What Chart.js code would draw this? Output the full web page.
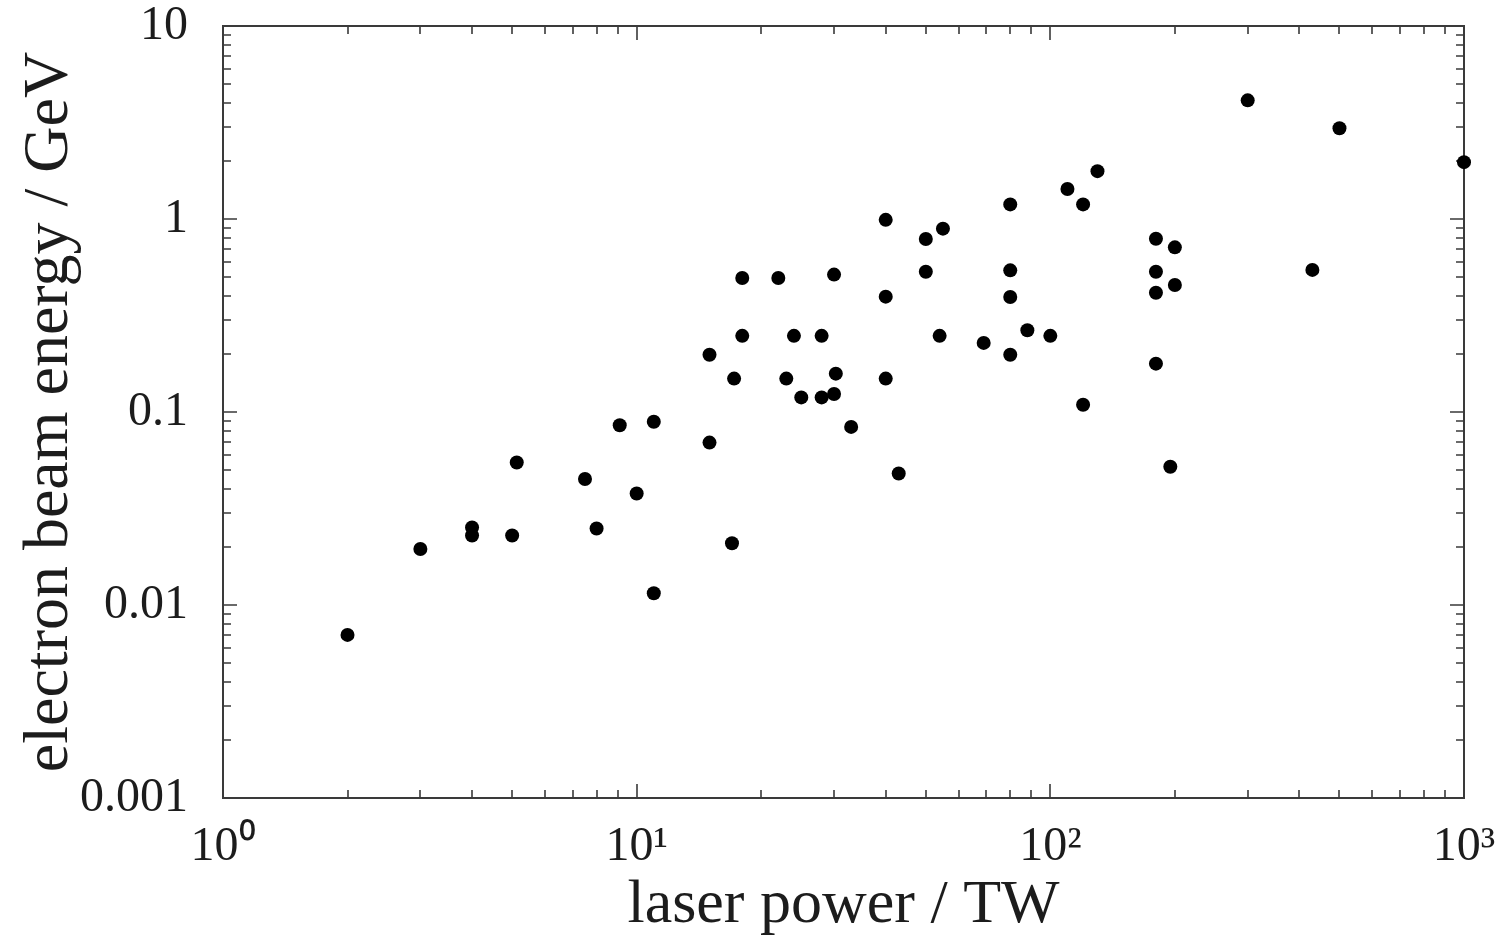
<!DOCTYPE html>
<html>
<head>
<meta charset="utf-8">
<script src="https://cdn.jsdelivr.net/npm/chart.js@4"></script>
<style>
  html, body { margin: 0; padding: 0; background: #fff; }
  #wrap { width: 1511px; height: 943px; }
</style>
</head>
<body>
<div id="wrap"><canvas id="beamChart"></canvas></div>
<script>
// laser power (TW) and electron beam energy (GeV)
const powerTW = [
  2, 3, 4, 4, 5, 5.13, 7.5, 8, 9.1, 10,
  11, 11, 15, 15, 17.2, 17, 18, 18, 22, 23,
  24, 25, 28, 28, 30, 30.3, 30, 33, 40, 40,
  40, 43, 50, 50, 55, 54, 69, 80, 80, 80,
  80, 88, 100, 110, 120, 120, 130, 180, 180, 180,
  180, 200, 200, 195, 300, 430, 500, 1000
];
const energyGeV = [
  0.007, 0.0195, 0.0252, 0.0229, 0.0229, 0.0547, 0.045, 0.0249, 0.0854, 0.0378,
  0.089, 0.0115, 0.0694, 0.198, 0.149, 0.0209, 0.495, 0.248, 0.495, 0.149,
  0.248, 0.119, 0.248, 0.119, 0.515, 0.158, 0.124, 0.0837, 0.99, 0.396,
  0.149, 0.048, 0.788, 0.533, 0.891, 0.248, 0.228, 1.19, 0.542, 0.394,
  0.198, 0.265, 0.248, 1.43, 1.19, 0.109, 1.77, 0.79, 0.533, 0.415,
  0.178, 0.713, 0.455, 0.052, 4.12, 0.545, 2.95, 1.97
];

const xTickValues = [1, 10, 100, 1000];
const xTickLabels = ['10\u2070', '10\u00b9', '10\u00b2', '10\u00b3'];
const yTickValues = [0.001, 0.01, 0.1, 1, 10];
const yTickLabels = ['0.001', '0.01', '0.1', '1', '10'];

const serif = "'Liberation Serif', 'Times New Roman', serif";
const axisColor = '#3a3a3a';
const textColor = '#1c1c1c';

// box + inward major/minor ticks on all four sides
const frameTicks = {
  id: 'frameTicks',
  beforeDatasetsDraw(chart) {
    const { ctx, chartArea: a, scales: { x, y } } = chart;
    ctx.save();
    ctx.strokeStyle = axisColor;

    function decadeTicks(min, max) {
      const out = [];
      for (let d = min; d <= max * 1.0001; d *= 10) {
        out.push({ v: d, major: true });
        for (let k = 2; k <= 9; k++) {
          if (k * d < max * 0.9999) out.push({ v: k * d, major: false });
        }
      }
      return out;
    }

    ctx.lineWidth = 1.6;
    ctx.beginPath();
    decadeTicks(x.min, x.max).forEach(t => {
      const px = Math.round(x.getPixelForValue(t.v));
      const len = t.major ? 14 : 8;
      ctx.moveTo(px, a.bottom); ctx.lineTo(px, a.bottom - len);
      ctx.moveTo(px, a.top); ctx.lineTo(px, a.top + len);
    });
    decadeTicks(y.min, y.max).forEach(t => {
      const py = Math.round(y.getPixelForValue(t.v));
      const len = t.major ? 14 : 8;
      ctx.moveTo(a.left, py); ctx.lineTo(a.left + len, py);
      ctx.moveTo(a.right, py); ctx.lineTo(a.right - len, py);
    });
    ctx.stroke();

    ctx.lineWidth = 2;
    ctx.strokeRect(a.left, a.top, a.right - a.left, a.bottom - a.top);
    ctx.restore();
  }
};

function initChart() {
  const ctx = document.getElementById('beamChart').getContext('2d');
  new Chart(ctx, {
    type: 'scatter',
    data: {
      datasets: [{
        data: powerTW.map((p, i) => ({ x: p, y: energyGeV[i] })),
        backgroundColor: '#000',
        borderColor: '#000',
        borderWidth: 0,
        pointRadius: 7,
        pointHoverRadius: 7,
        clip: false
      }]
    },
    options: {
      responsive: true,
      maintainAspectRatio: false,
      animation: false,
      layout: { padding: { top: 26, right: 47, left: 0, bottom: 0 } },
      plugins: { legend: { display: false }, tooltip: { enabled: false } },
      scales: {
        x: {
          type: 'logarithmic',
          min: 1,
          max: 1000,
          afterBuildTicks: s => { s.ticks = xTickValues.map(v => ({ value: v })); },
          afterFit: s => { s.height = 145; s.paddingLeft = 0; s.paddingRight = 0; },
          grid: { display: false, drawTicks: false },
          border: { display: false },
          ticks: {
            autoSkip: false,
            maxRotation: 0,
            padding: 21,
            color: textColor,
            font: { family: serif, size: 48 },
            callback: (v, i) => xTickLabels[i]
          },
          title: {
            display: true,
            text: 'laser power / TW',
            color: textColor,
            font: { family: serif, size: 62 },
            padding: { top: 0, bottom: 0 }
          }
        },
        y: {
          type: 'logarithmic',
          min: 0.001,
          max: 10,
          afterBuildTicks: s => { s.ticks = yTickValues.map(v => ({ value: v })); },
          afterFit: s => { s.width = 223; s.paddingTop = 0; s.paddingBottom = 0; },
          grid: { display: false, drawTicks: false },
          border: { display: false },
          ticks: {
            autoSkip: false,
            padding: 35,
            color: textColor,
            font: { family: serif, size: 48 },
            callback: (v, i) => yTickLabels[i]
          },
          title: {
            display: true,
            text: 'electron beam energy / GeV',
            color: textColor,
            font: { family: serif, size: 64 },
            padding: { top: 12, bottom: 0 }
          }
        }
      }
    },
    plugins: [frameTicks]
  });
}

window.onload = () => {
  initChart();
};
</script>
</body>
</html>
